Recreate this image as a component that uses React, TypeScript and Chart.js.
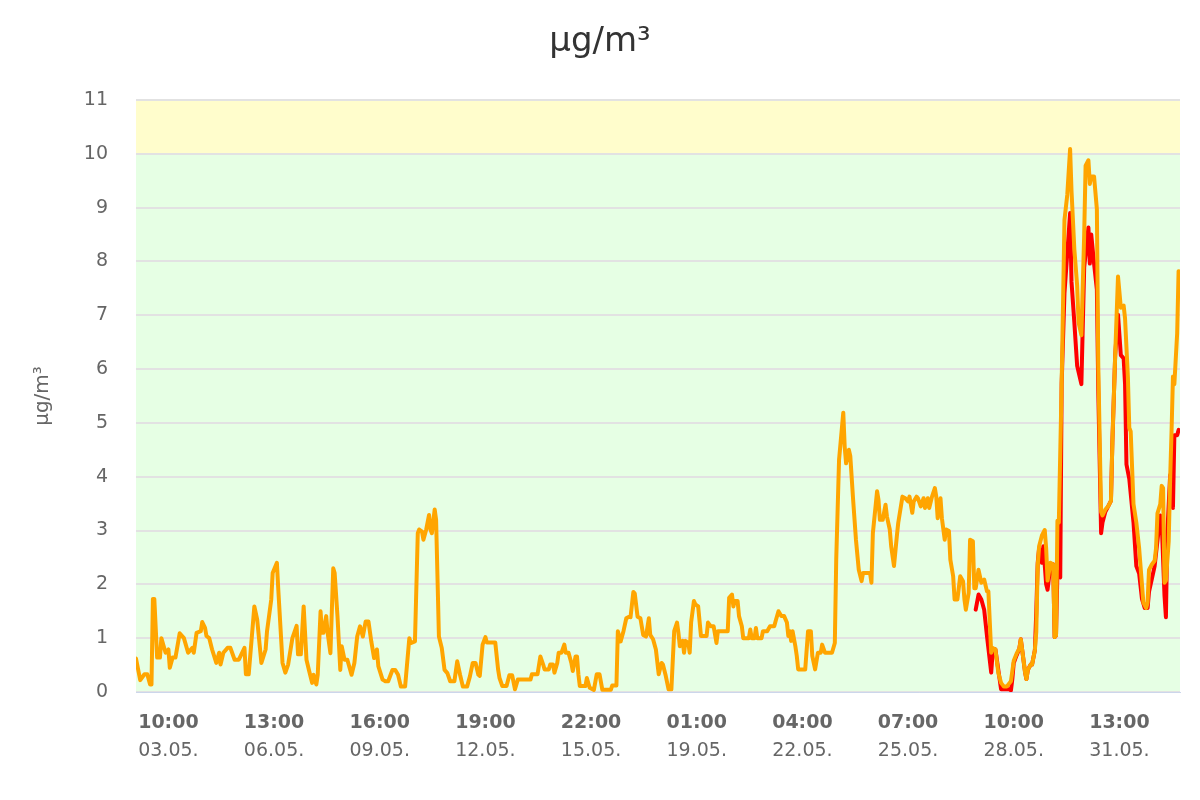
import React, { useEffect, useRef } from "react";
import { Chart, registerables } from "chart.js";

Chart.register(...registerables);

// Hours counted from 03.05. 00:00
const orangeHours = [
  -13, -10, -7, -5, -3, -2, -1, 0, 2, 4, 5, 8, 10, 11, 13, 15, 18, 21, 24, 27, 28, 30, 33, 34, 36, 37,
  39, 41, 44, 46, 47, 49, 52, 54, 57, 60, 64, 65, 67, 71, 73, 76, 79, 80, 83, 84, 87, 88, 91, 93, 95, 98,
  101, 102, 104, 106, 108, 110, 112, 113, 115, 116, 118, 119, 120, 122, 123, 125, 127, 128, 130, 132, 133,
  135, 137, 140, 142, 144, 146, 148, 150, 152, 154, 156, 158, 159, 162, 164, 166, 169, 171, 173, 175, 178,
  181, 182, 185, 187, 188, 190, 191, 193, 195, 196, 197, 199, 200, 202, 204, 206, 208, 210, 213, 215, 217,
  219, 222, 224, 226, 228, 230, 231, 233, 235, 236, 242, 244, 245, 247, 250, 252, 254, 256, 258, 267, 268,
  272, 274, 276, 277, 280, 281, 283, 284, 286, 287, 289, 291, 292, 294, 296, 297, 299, 300, 301, 302, 306,
  307, 309, 312, 314, 316, 318, 324, 325, 328, 329, 331, 333, 335, 337, 338, 340, 341, 343, 345, 347, 349,
  351, 352, 354, 356, 358, 360, 361, 363, 365, 367, 369, 371, 372, 373, 375, 376, 377, 379, 380, 381, 383,
  384, 386, 388, 392, 393, 395, 397, 399, 400, 407, 408, 410, 411, 412, 414, 415, 417, 418, 422, 423, 424,
  426, 427, 428, 431, 432, 435, 437, 440, 441, 443, 445, 447, 449, 450, 451, 452, 453, 455, 456, 457, 462,
  464, 466, 467, 469, 471, 473, 474, 476, 481, 483, 484, 486, 489, 490, 491, 493, 494, 496, 498, 500, 502,
  503, 508, 509, 510, 513, 514, 515, 517, 519, 520, 522, 523, 525, 527, 528, 531, 533, 535, 536, 538, 539,
  541, 542, 544, 546, 547, 549, 550, 552, 554, 555, 556, 558, 559, 561, 562, 564, 565, 567, 568, 570, 572,
  574, 575, 576, 578, 579, 581, 582, 583, 585, 587, 589, 591, 592, 594, 595, 597, 599, 601, 603, 605, 608,
  610, 612, 614, 615, 616, 618, 619, 620, 622, 623, 625, 626, 627, 628, 630, 632, 633, 634, 636, 638, 639,
  640, 641, 642, 644, 646, 648, 650, 651, 653, 655, 656, 658, 660, 661, 663, 664, 665, 667, 669, 670, 672,
  673, 675, 677, 679, 680, 682, 684, 686, 688, 689, 691, 692, 693, 695, 697, 699, 701, 702, 704, 705, 706,
  708, 710, 711, 712, 714, 715, 716, 717, 718, 720, 721, 722, 723, 724, 726, 727,
];
const orangeValues = [
  0.62, 0.22, 0.33, 0.33, 0.14, 0.14, 1.73, 1.73, 0.64, 0.64, 1.0, 0.73, 0.79, 0.45, 0.64, 0.64, 1.09, 1.0, 0.73, 0.82, 0.73, 1.1, 1.13, 1.3, 1.19, 1.04,
  1.0, 0.79, 0.54, 0.73, 0.51, 0.73, 0.82, 0.82, 0.6, 0.6, 0.82, 0.33, 0.33, 1.59, 1.35, 0.54, 0.79, 1.13, 1.72, 2.21, 2.4, 1.9, 0.54, 0.36, 0.51, 1.0,
  1.23, 0.7, 0.7, 1.59, 0.6, 0.38, 0.17, 0.32, 0.14, 0.32, 1.5, 1.1, 1.1, 1.41, 1.1, 0.72, 2.3, 2.21, 1.41, 0.41, 0.85,
  0.6, 0.6, 0.32, 0.54, 1.03, 1.22, 1.03, 1.31, 1.31, 0.94, 0.63, 0.79, 0.48, 0.23, 0.2, 0.2, 0.41, 0.41, 0.32, 0.1, 0.1,
  1.0, 0.91, 0.94, 2.95, 3.02, 2.98, 2.83, 3.02, 3.29, 3.02, 2.95, 3.39, 3.2, 1.03, 0.82, 0.41, 0.35, 0.2, 0.2, 0.57, 0.32,
  0.1, 0.1, 0.29, 0.54, 0.54, 0.32, 0.3, 0.88, 1.02, 0.92, 0.92, 0.42, 0.26, 0.11, 0.11, 0.31, 0.31, 0.05, 0.23, 0.23, 0.33,
  0.33, 0.66, 0.51, 0.42, 0.42, 0.51, 0.51, 0.36, 0.54, 0.73, 0.73, 0.88, 0.73, 0.73, 0.54, 0.39, 0.66, 0.66, 0.33, 0.11, 0.11,
  0.26, 0.08, 0.04, 0.33, 0.33, 0.04, 0.04, 0.12, 0.12, 1.13, 0.94, 1.13, 1.37, 1.4, 1.39, 1.86, 1.83, 1.4, 1.37, 1.06, 1.03,
  1.37, 1.06, 0.98, 0.79, 0.33, 0.54, 0.51, 0.3, 0.05, 0.05, 1.13, 1.29, 1.1, 0.85, 0.95, 0.73, 0.95, 0.91, 0.73, 1.29, 1.69,
  1.63, 1.59, 1.04, 1.04, 1.29, 1.22, 1.22, 0.91, 1.13, 1.13, 1.75, 1.81, 1.59, 1.69, 1.69, 1.41, 1.22, 1.0, 1.0, 1.16, 1.0,
  1.0, 1.19, 1.0, 1.0, 1.13, 1.13, 1.22, 1.22, 1.32, 1.5, 1.41, 1.41, 1.29, 1.04, 1.13, 0.95, 1.13, 0.85, 0.67, 0.42, 0.42,
  1.13, 1.13, 0.67, 0.42, 0.73, 0.73, 0.88, 0.73, 0.73, 0.91, 2.46, 4.31, 5.19, 4.56, 4.25, 4.5, 4.38, 3.57, 2.83, 2.27, 2.06,
  2.21, 2.21, 2.03, 2.95, 3.73, 3.57, 3.2, 3.2, 3.48, 3.26, 3.02, 2.71, 2.34, 2.89, 3.14, 3.63, 3.6, 3.54, 3.63, 3.33, 3.54,
  3.63, 3.6, 3.45, 3.6, 3.42, 3.6, 3.42, 3.63, 3.79, 3.63, 3.23, 3.6, 3.23, 2.83, 3.02, 2.99, 2.46, 2.15, 1.72, 1.72, 2.15,
  2.06, 1.72, 1.53, 1.84, 2.83, 2.8, 1.93, 1.93, 2.27, 2.03, 2.09, 1.87, 1.87, 0.73, 0.82, 0.79, 0.36, 0.17, 0.1, 0.1, 0.2,
  0.58, 0.71, 0.81, 0.98, 0.78, 0.37, 0.24, 0.41, 0.51, 0.51, 0.78, 1.12, 2.34, 2.71, 2.91, 3.01, 2.67, 2.07, 2.4, 2.37, 1.02,
  1.05, 3.18, 3.15, 5.72, 8.77, 9.24, 10.09, 9.31, 8.23, 7.55, 6.87, 6.63, 8.5, 9.78, 9.88, 9.44, 9.58, 9.58, 8.97, 6.06, 3.35,
  3.28, 3.39, 3.45, 3.55, 4.64, 6.26, 7.72, 7.14, 7.18, 6.94, 5.86, 4.91, 4.84, 3.49, 3.15, 2.67, 2.0, 1.66, 1.56, 1.66, 2.27,
  2.37, 2.44, 2.67, 3.32, 3.49, 3.83, 3.79, 2.03, 2.07, 2.81, 3.96, 4.84, 5.86, 5.72, 6.67, 7.82,
];

const redHours = [
  583, 585, 587, 589, 591, 594, 595, 597, 601, 607, 608, 609, 610, 612, 614, 615, 616, 618, 619, 620, 622, 623,
  625, 626, 627, 628, 630, 631, 633, 634, 636, 638, 639, 640, 641, 643, 644, 646, 650, 651, 653, 655, 658, 660,
  663, 664, 665, 667, 669, 670, 672, 673, 675, 677, 679, 680, 682, 684, 686, 688, 689, 690, 692, 695, 697, 699,
  701, 703, 705, 706, 708, 710, 712, 714, 715, 717, 718, 719, 721, 722, 723, 724, 726, 727,
];
const redValues = [
  1.53, 1.81, 1.72, 1.53, 1.04, 0.36, 0.73, 0.79, 0.05, 0.05, 0.03, 0.24, 0.54, 0.68, 0.81, 0.98, 0.78, 0.37, 0.24, 0.41, 0.51, 0.51,
  0.78, 1.5, 2.4, 2.67, 2.4, 2.71, 2.0, 1.9, 2.34, 2.37, 1.02, 1.05, 2.23, 2.13, 5.72, 7.41, 8.9, 7.62, 6.87, 6.06, 5.72, 7.89,
  8.63, 7.96, 8.5, 7.96, 7.48, 5.59, 2.95, 3.15, 3.35, 3.45, 3.55, 4.64, 6.26, 7.01, 6.26, 6.2, 5.72, 4.23, 3.96, 3.15, 2.34, 2.2,
  1.73, 1.56, 1.56, 1.86, 2.1, 2.34, 2.81, 3.28, 3.15, 1.79, 1.39, 2.95, 4.03, 3.83, 3.42, 4.77, 4.77, 4.87,
];

const tickHours = [10, 85, 160, 235, 310, 385, 460, 535, 610, 685];
const tickTimes = ["10:00", "13:00", "16:00", "19:00", "22:00", "01:00", "04:00", "07:00", "10:00", "13:00"];
const tickDates = ["03.05.", "06.05.", "09.05.", "12.05.", "15.05.", "19.05.", "22.05.", "25.05.", "28.05.", "31.05."];
const yTicks = [0, 1, 2, 3, 4, 5, 6, 7, 8, 9, 10, 11];

const X_MIN = -13;
const X_MAX = 728;
const FONT = "DejaVu Sans";

const bandsPlugin = {
  id: "bands",
  beforeDraw(chart: any) {
    const { ctx, chartArea, scales } = chart;
    const y = scales.y;
    ctx.save();
    ctx.fillStyle = "#E6FFE4";
    ctx.fillRect(chartArea.left, y.getPixelForValue(10), chartArea.right - chartArea.left, y.getPixelForValue(0) - y.getPixelForValue(10));
    ctx.fillStyle = "#FFFDCC";
    ctx.fillRect(chartArea.left, y.getPixelForValue(11), chartArea.right - chartArea.left, y.getPixelForValue(10) - y.getPixelForValue(11));
    ctx.restore();
  },
};

const titlePlugin = {
  id: "mainTitle",
  afterDraw(chart: any) {
    const { ctx } = chart;
    ctx.save();
    ctx.fillStyle = "#333333";
    ctx.font = `34px "${FONT}"`;
    ctx.textAlign = "center";
    ctx.textBaseline = "alphabetic";
    ctx.fillText("μg/m³", 600, 51);
    ctx.restore();
  },
};

export default function App() {
  const ref = useRef<HTMLCanvasElement>(null);
  useEffect(() => {
    if (!ref.current) return;
    const orange = orangeHours.map((h, i) => ({ x: h, y: orangeValues[i] }));
    const red = redHours.map((h, i) => ({ x: h, y: redValues[i] }));
    const setTicks = (s: any) => {
      s.ticks = tickHours.map((v) => ({ value: v }));
    };
    const chart = new Chart(ref.current, {
      type: "line",
      data: {
        datasets: [
          { label: "orange", data: orange, borderColor: "#FFA500", backgroundColor: "#FFA500", borderWidth: 4, pointRadius: 0, tension: 0, borderJoinStyle: "round", borderCapStyle: "round", xAxisID: "x", yAxisID: "y" },
          { label: "red", data: red, borderColor: "#FF0000", backgroundColor: "#FF0000", borderWidth: 4, pointRadius: 0, tension: 0, borderJoinStyle: "round", borderCapStyle: "round", xAxisID: "x", yAxisID: "y" },
        ],
      },
      options: {
        responsive: false,
        animation: false,
        events: [],
        layout: { padding: { top: 100, right: 20, left: 0, bottom: 0 } },
        plugins: { legend: { display: false }, tooltip: { enabled: false }, title: { display: false } },
        scales: {
          x: {
            type: "linear",
            position: "bottom",
            weight: 0,
            min: X_MIN,
            max: X_MAX,
            afterBuildTicks: setTicks,
            afterFit: (s: any) => { s.height = 40; },
            ticks: {
              autoSkip: false,
              maxRotation: 0,
              padding: 20,
              color: "#666666",
              font: { family: FONT, size: 19, weight: "bold" },
              callback: (v: any) => tickTimes[tickHours.indexOf(Number(v))] ?? "",
            },
            grid: { display: false, drawTicks: false },
            border: { display: true, color: "#CCD6EB", width: 1 },
          },
          x2: {
            type: "linear",
            position: "bottom",
            weight: 1,
            min: X_MIN,
            max: X_MAX,
            afterBuildTicks: setTicks,
            afterFit: (s: any) => { s.height = 68; },
            ticks: {
              autoSkip: false,
              maxRotation: 0,
              padding: 8,
              color: "#666666",
              font: { family: FONT, size: 19 },
              callback: (v: any) => tickDates[tickHours.indexOf(Number(v))] ?? "",
            },
            grid: { display: false, drawTicks: false },
            border: { display: false },
          },
          y: {
            type: "linear",
            min: 0,
            max: 11,
            afterBuildTicks: (s: any) => { s.ticks = yTicks.map((v) => ({ value: v })); },
            afterFit: (s: any) => { s.width = 136; },
            ticks: {
              padding: 28,
              color: "#666666",
              font: { family: FONT, size: 19 },
              callback: (v: any) => String(v),
            },
            grid: { color: "#E2E2E2", lineWidth: 2, drawTicks: false },
            border: { display: false },
            title: {
              display: true,
              text: "μg/m³",
              color: "#666666",
              font: { family: FONT, size: 20 },
              padding: { top: 31, bottom: 0 },
            },
          },
        },
      },
      plugins: [bandsPlugin, titlePlugin],
    });
    return () => chart.destroy();
  }, []);
  return (
    <div style={{ position: "fixed", left: 0, top: 0, width: 1200, height: 800, background: "#ffffff" }}>
      <canvas ref={ref} width={1200} height={800} style={{ width: 1200, height: 800, display: "block" }} />
    </div>
  );
}
